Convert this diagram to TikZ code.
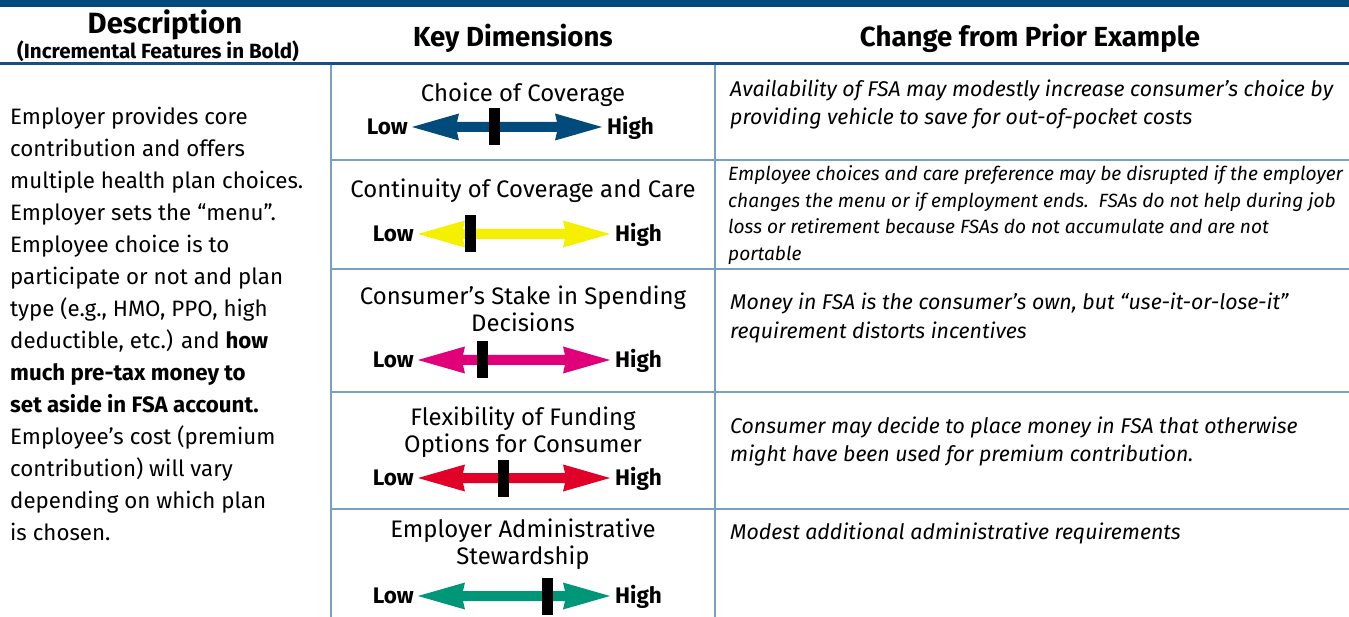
\documentclass[tikz,border=0pt]{standalone}
\usepackage{fontspec}
\setmainfont{Fira Sans}
\definecolor{dkblue}{RGB}{0,74,124}
\definecolor{hdrline}{RGB}{20,80,130}
\definecolor{gridc}{RGB}{122,160,192}
\definecolor{ayellow}{RGB}{245,240,0}
\definecolor{amagenta}{RGB}{224,0,122}
\definecolor{ared}{RGB}{224,0,40}
\definecolor{ateal}{RGB}{0,150,120}
\newcommand\fsz[2]{\fontsize{#1}{#2}\selectfont}
\newcommand\dimarrow[6]{%
  \fill[#5] (#3,#2) -- (#3+47,#2-13.5) -- (#3+45,#2-5) -- (#4-45,#2-5) -- (#4-47,#2-13.5) -- (#4,#2)
     -- (#4-47,#2+13.5) -- (#4-45,#2+5) -- (#3+45,#2+5) -- (#3+47,#2+13.5) -- cycle;
  \fill[black] (#6-5.5,#2-18.5) rectangle (#6+5.5,#2+18.5);
  \node[lh, anchor=base east] (#1low) at (#3-4,#2+7.5) {Low};
  \node[lh, anchor=base west] (#1high) at (#4+5,#2+7.5) {High};
}
\begin{document}
\begin{tikzpicture}[x=1pt,y=-1pt,
  gridline/.style={draw=gridc, line width=1.8pt},
  hdr/.style={inner sep=0pt, anchor=base, font=\bfseries\fsz{27.6}{30}},
  lefttxt/.style={inner sep=0pt, anchor=base west, align=left, font=\fsz{22.3}{32}},
  dimtitle/.style={inner sep=0pt, anchor=base, align=center, font=\fsz{23.9}{27}},
  lh/.style={inner sep=0pt, font=\bfseries\fsz{22.5}{24}},
  chg/.style={inner sep=0pt, anchor=base west, align=left, font=\itshape\fsz{21.3}{28.5}},
  chgs/.style={inner sep=0pt, anchor=base west, align=left, font=\itshape\fsz{19.15}{26.5}}
]
\useasboundingbox (0,0) rectangle (1349,617);
% top band and header rule
\fill[dkblue] (0,0) rectangle (1349,7);
\draw[hdrline, line width=2.5pt] (0,63.5) -- (1349,63.5);
% grid
\draw[gridline] (331,65) -- (331,617);
\draw[gridline] (715,65) -- (715,617);
\foreach \yy in {160,269,392,509} \draw[gridline] (331,\yy) -- (1349,\yy);
% headers
\node[inner sep=0pt, anchor=base, font=\bfseries\fsz{29.3}{30}] (hdesc) at (165,33.5) {Description};
\node[inner sep=0pt, anchor=base, font=\bfseries\fsz{20.6}{22}] (hsub) at (158,59) {(Incremental Features in Bold)};
\node[hdr] (hkey) at (513,46.5) {Key Dimensions};
\node[hdr] (hchg) at (1030,46.5) {Change from Prior Example};
% left description (anchor = baseline of last line)
\node[lefttxt] (desc) at (10,540) {Employer provides core\\
contribution and offers\\
multiple health plan choices.\\
Employer sets the “menu”.\\
Employee choice is to\\
participate or not and plan\\
type (e.g., HMO, PPO, high\\
deductible, etc.) and \textbf{how}\\
\textbf{much pre-tax money to}\\
\textbf{set aside in FSA account.}\\
Employee’s cost (premium\\
contribution) will vary\\
depending on which plan\\
is chosen.};
% key dimensions
\node[dimtitle] (t1) at (523,102) {Choice of Coverage};
\dimarrow{a}{127}{412}{602}{dkblue}{494}
\node[dimtitle] (t2) at (523,198) {Continuity of Coverage and Care};
\dimarrow{b}{234}{418}{610}{ayellow}{470}
\node[dimtitle] (t3) at (523,332) {Consumer’s Stake in Spending\\Decisions};
\dimarrow{c}{360}{418}{610}{amagenta}{482}
\node[dimtitle] (t4) at (523,452) {Flexibility of Funding\\Options for Consumer};
\dimarrow{d}{478}{418}{610}{ared}{503}
\node[dimtitle] (t5) at (523,564) {Employer Administrative\\Stewardship};
\dimarrow{e}{596}{418}{610}{ateal}{547}
% change column (anchor = baseline of last line)
\node[chg] (c1) at (730,125) {Availability of FSA may modestly increase consumer’s choice by\\
providing vehicle to save for out-of-pocket costs};
\node[chgs] (c2) at (728,260.5) {Employee choices and care preference may be disrupted if the employer\\
changes the menu or if employment ends.\ \ FSAs do not help during job\\
loss or retirement because FSAs do not accumulate and are not\\
portable};
\node[chg] (c3) at (730,338.5) {Money in FSA is the consumer’s own, but “use-it-or-lose-it”\\
requirement distorts incentives};
\node[chg] (c4) at (730,461.5) {Consumer may decide to place money in FSA that otherwise\\
might have been used for premium contribution.};
\node[chg] (c5) at (730,539) {Modest additional administrative requirements};
\end{tikzpicture}
\end{document}
